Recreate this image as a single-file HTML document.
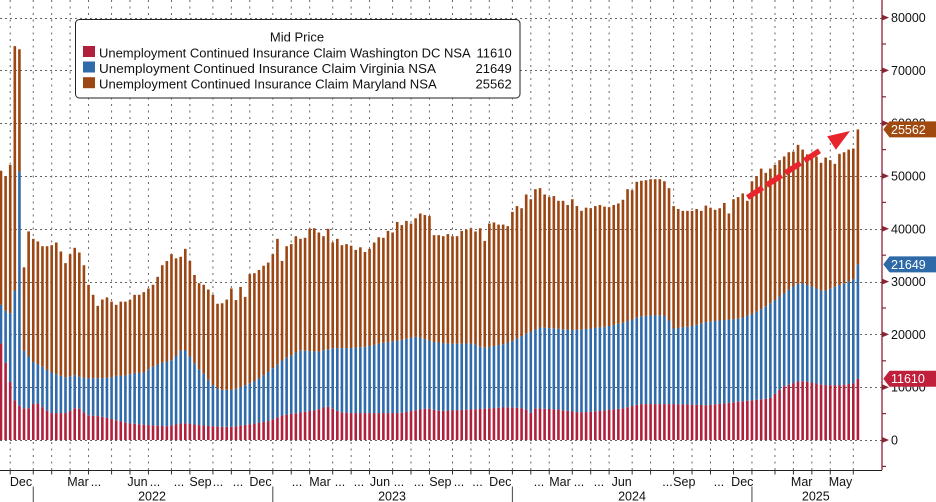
<!DOCTYPE html>
<html>
<head>
<meta charset="utf-8">
<style>
html,body{margin:0;padding:0;background:#fff;}
svg{display:block;}
text{font-family:"Liberation Sans",Arial,sans-serif;fill:#111;}
</style>
</head>
<body>
<svg id="c" width="936" height="502" viewBox="0 0 936 502" xmlns="http://www.w3.org/2000/svg">
<rect width="936" height="502" fill="#fff"/>
<g id="grid"></g>
<g id="bars"></g>

<!-- arrow -->
<line x1="747.5" y1="197.5" x2="819.5" y2="150.8" stroke="#e8242c" stroke-width="5.5" stroke-dasharray="18 4.6"/>
<polygon points="850,131 827.2,136.3 835.9,149.7" fill="#e8242c"/>

<!-- legend -->
<rect x="75.5" y="19.5" width="444.5" height="78.5" rx="4" ry="4" fill="#fff" stroke="#222" stroke-width="1"/>
<text x="297" y="41.3" text-anchor="middle" font-size="13">Mid Price</text>
<rect x="83" y="46" width="12" height="11" fill="#b0203c"/>
<rect x="83" y="61.5" width="12" height="11" fill="#2f6aab"/>
<rect x="83" y="77.2" width="12" height="11" fill="#9b4613"/>
<text x="99" y="57.3" font-size="13" textLength="371.7" lengthAdjust="spacingAndGlyphs">Unemployment Continued Insurance Claim Washington DC NSA</text>
<text x="99" y="72.9" font-size="13" textLength="337" lengthAdjust="spacingAndGlyphs">Unemployment Continued Insurance Claim Virginia NSA</text>
<text x="99" y="88.6" font-size="13" textLength="337.7" lengthAdjust="spacingAndGlyphs">Unemployment Continued Insurance Claim Maryland NSA</text>
<text x="511.7" y="57.3" font-size="13" text-anchor="end">11610</text>
<text x="511.7" y="72.9" font-size="13" text-anchor="end">21649</text>
<text x="511.7" y="88.6" font-size="13" text-anchor="end">25562</text>

<!-- right axis -->
<g id="raxis"></g>
<g font-size="12.5">
<text x="891" y="22.1">80000</text>
<text x="891" y="74.9">70000</text>
<text x="891" y="127.7">60000</text>
<text x="891" y="180.5">50000</text>
<text x="891" y="233.3">40000</text>
<text x="891" y="286.1">30000</text>
<text x="891" y="338.9">20000</text>
<text x="891" y="391.7">10000</text>
<text x="891" y="444.5">0</text>
</g>

<!-- value boxes -->
<polygon points="883.3,129.4 889.5,121.4 936,121.4 936,137.4 889.5,137.4" fill="#a04a10"/>
<text x="891" y="133.9" font-size="12.5" style="fill:#fff">25562</text>
<polygon points="883.3,264.4 889.5,256.4 936,256.4 936,272.4 889.5,272.4" fill="#2e69a8"/>
<text x="891" y="268.9" font-size="12.5" style="fill:#fff">21649</text>
<polygon points="883.3,378.7 889.5,370.7 936,370.7 936,386.7 889.5,386.7" fill="#c0203c"/>
<text x="891" y="383.2" font-size="12.5" style="fill:#fff">11610</text>

<!-- x axis -->
<line x1="0" y1="470.5" x2="882" y2="470.5" stroke="#222" stroke-width="1"/>
<g id="xticks"></g>
<g font-size="12.5" text-anchor="middle">
<text x="21" y="486">Dec</text>
<text x="78" y="486">Mar</text>
<text x="96" y="486">...</text>
<text x="137.5" y="486">Jun</text>
<text x="155" y="486">...</text>
<text x="179" y="486">...</text>
<text x="200.5" y="486">Sep</text>
<text x="218" y="486">...</text>
<text x="238" y="486">...</text>
<text x="260.5" y="486">Dec</text>
<text x="297" y="486">...</text>
<text x="320" y="486">Mar</text>
<text x="340" y="486">...</text>
<text x="359" y="486">...</text>
<text x="380" y="486">Jun</text>
<text x="399" y="486">...</text>
<text x="419" y="486">...</text>
<text x="440.4" y="486">Sep</text>
<text x="459" y="486">...</text>
<text x="477.5" y="486">...</text>
<text x="500.3" y="486">Dec</text>
<text x="539" y="486">...</text>
<text x="560" y="486">Mar</text>
<text x="579" y="486">...</text>
<text x="599" y="486">...</text>
<text x="621.7" y="486">Jun</text>
<text x="667.5" y="486">...</text>
<text x="684.3" y="486">Sep</text>
<text x="719" y="486">...</text>
<text x="742.3" y="486">Dec</text>
<text x="801.7" y="486">Mar</text>
<text x="840.5" y="486">May</text>
<text x="152" y="500.5">2022</text>
<text x="392" y="500.5">2023</text>
<text x="632" y="500.5">2024</text>
<text x="815.8" y="500.5">2025</text>
</g>
</svg>
<script>
(function(){
var NS="http://www.w3.org/2000/svg";
function el(tag,attrs,parent){var e=document.createElementNS(NS,tag);for(var k in attrs)e.setAttribute(k,attrs[k]);parent.appendChild(e);return e;}
var grid=document.getElementById('grid');
var bars=document.getElementById('bars');
var rax=document.getElementById('raxis');
var xt=document.getElementById('xticks');
function Y(v){return 440-v*5.28;}
function snap(x){var i=Math.round((x-1)/4.607);return 1+4.607*i;}
// horizontal grid
for(var v=0;v<=80;v+=10){var y=Math.round(Y(v))+0.5;
 el('line',{x1:0,y1:y,x2:882,y2:y,stroke:'#666','stroke-width':1,'stroke-dasharray':'2 3'},grid);}
// vertical grid & month ticks
var ticks=[9.3,32.3,51.7,70,88.3,111.7,130,148.3,170.7,189.3,211.7,230,250,272.7,291.7,309,332.3,350,370,391.7,410,430,451.7,470,488.3,511.7,530,549,570,590,610,631,651.5,672,692,711,733,751.7,774,792.7,811.7,830,852.7];
ticks.forEach(function(x){var xx=snap(x).toFixed(2);
 el('line',{x1:xx,y1:0,x2:xx,y2:470,stroke:'#666','stroke-width':1,'stroke-dasharray':'2 4.5'},grid);
 el('line',{x1:xx,y1:470.5,x2:xx,y2:474.5,stroke:'#333','stroke-width':1},xt);});
[32.3,272.7,511.7,751.7].forEach(function(x){var xx=snap(x).toFixed(2);
 el('line',{x1:xx,y1:486.5,x2:xx,y2:502,stroke:'#444','stroke-width':1},xt);});
// data
var T=[51.0,50.0,52.1,74.6,74.0,32.7,39.5,38.1,37.6,36.7,
36.7,36.9,37.4,35.7,33.5,35.2,36.4,35.5,33.1,29.4,
27.5,25.4,26.6,27.0,26.2,25.6,26.2,26.2,26.5,27.5,
27.5,28.0,28.7,29.4,30.9,33.1,33.9,35.2,34.4,34.7,
36.2,33.9,31.25,29.7,29.4,28.5,27.5,25.8,25.9,26.6,
28.7,26.5,29.0,27.1,31.4,31.6,32.2,33.0,33.6,35.2,
38.1,33.9,36.7,37.1,38.6,38.1,38.3,40.0,40.1,39.3,
38.6,40.0,37.4,38.1,36.9,37.1,36.8,36.0,36.5,35.6,
36.2,37.4,38.4,38.3,39.6,39.3,41.3,40.7,41.5,41.0,
42.0,42.9,42.6,42.4,38.8,38.8,38.6,39.0,38.6,38.6,
39.6,39.8,40.1,39.5,40.1,37.7,41.0,41.2,40.8,40.8,
40.5,43.2,44.3,43.9,46.5,45.6,47.5,47.7,46.5,46.0,
46.2,45.3,45.3,44.5,45.6,44.3,43.4,44.0,43.9,44.3,
44.5,44.2,44.1,44.5,44.8,45.5,47.5,47.3,48.9,49.1,
49.2,49.4,49.4,49.4,49.0,47.7,44.3,43.75,43.4,43.4,
43.4,43.75,43.4,44.4,44.0,43.6,43.9,44.9,42.9,45.6,
46.0,46.7,45.3,49.0,50.0,51.4,50.6,51.4,52.1,53.0,
53.7,54.5,54.6,55.9,55.0,54.1,53.5,53.7,52.5,53.5,
53.0,52.3,54.2,54.5,55.0,55.2,58.821];
var B=[[1,25.6],[5.6,24.5],[10.2,24],[14.8,28.2],[19.4,51.1],[23.7,17.0],[28.7,15.8],[33,14.8],[40,14.2],[50,12.9],[60,12.2],[67,11.8],[75,12.3],[82,11.8],[90,11.7],[100,11.7],[110,11.8],[117,12.2],[127,12.2],[133,12.7],[143,12.7],[150,13.6],[160,14.5],[173,15.2],[183,17.5],[190,15.8],[197,13.8],[203,12.7],[210,11.0],[215,10.0],[220,9.5],[233,9.5],[240,10.0],[253,11.0],[267,12.7],[283,15.2],[300,17.0],[317,16.7],[333,17.4],[350,17.4],[367,17.7],[383,18.4],[400,18.9],[417,19.6],[433,18.6],[450,18.2],[473,18.3],[483,17.4],[507,18.3],[527,20.2],[540,21.3],[557,21.1],[573,20.8],[590,21.1],[607,21.5],[627,22.4],[640,23.4],[657,23.7],[667,23.4],[673,21.1],[690,21.5],[707,22.4],[723,22.7],[740,23.0],[757,24.3],[773,26.2],[790,28.7],[800,29.8],[813,29.0],[823,28.1],[840,29.4],[853,30.3],[857.9,33.259]];
var R=[[1,18.3],[5.6,14.6],[10.2,11],[14.8,7.5],[19.4,6.5],[24,6.0],[30,6.0],[35,7.3],[40,6.6],[50,5.1],[60,5.1],[67,5.1],[77,6.3],[87,4.7],[100,4.5],[107,4.2],[127,3.2],[150,2.8],[167,2.6],[183,3.2],[200,2.8],[220,2.5],[233,2.5],[250,3.0],[267,3.5],[283,4.7],[300,5.2],[317,5.7],[327,6.4],[340,5.3],[350,5.1],[370,5.1],[400,5.1],[427,6.0],[440,5.5],[450,5.6],[473,5.8],[507,6.2],[525,6.0],[530,5.0],[535,6.0],[557,5.8],[580,5.2],[600,5.5],[623,6.0],[640,6.8],[673,6.8],[707,6.6],[723,6.9],[740,7.3],[757,7.6],[770,7.9],[783,10.1],[800,11.2],[813,10.85],[823,10.4],[840,10.4],[853,10.7],[857.9,11.61]];
function interp(arr,x){if(x<=arr[0][0])return arr[0][1];
 for(var k=1;k<arr.length;k++){if(x<=arr[k][0]){var a=arr[k-1],b=arr[k];return a[1]+(b[1]-a[1])*(x-a[0])/(b[0]-a[0]);}}
 return arr[arr.length-1][1];}
var W=2.6;
for(var i=0;i<T.length;i++){
 var cx=1+4.607*i, x=cx-W/2;
 var t=T[i], b=interp(B,cx), r=interp(R,cx);
 if(b>t)b=t; if(r>b)r=b;
 var y0=440,yr=Y(r),yb=Y(b),yt=Y(t);
 el('rect',{x:x.toFixed(2),y:yr.toFixed(2),width:W,height:(y0-yr).toFixed(2),fill:'#b0203c'},bars);
 el('rect',{x:x.toFixed(2),y:yb.toFixed(2),width:W,height:(yr-yb).toFixed(2),fill:'#2f6aab'},bars);
 el('rect',{x:x.toFixed(2),y:yt.toFixed(2),width:W,height:(yb-yt).toFixed(2),fill:'#9b4613'},bars);
}
// right axis
el('line',{x1:882,y1:0,x2:882,y2:470,stroke:'#8b2332','stroke-width':1.3},rax);
for(var v2=-5;v2<=85;v2+=5){var yy=Y(v2);if(yy<0||yy>470)continue;
 if(v2%10===0){el('polygon',{points:'882,'+(yy-3)+' 889,'+yy+' 882,'+(yy+3),fill:'#8b2332'},rax);}
 else{el('line',{x1:882,y1:yy,x2:886,y2:yy,stroke:'#8b2332','stroke-width':1.2},rax);}
}
})();
</script>
</body>
</html>
